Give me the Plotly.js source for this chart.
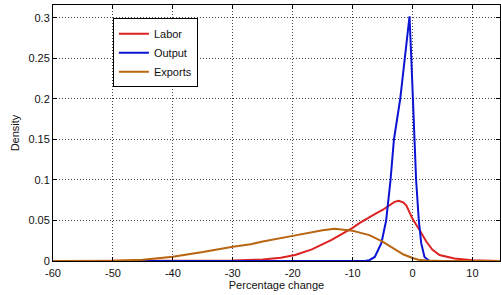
<!DOCTYPE html>
<html>
<head>
<meta charset="utf-8">
<script src="https://cdn.plot.ly/plotly-3.0.1.min.js"></script>
<style>html,body{margin:0;padding:0;background:#fff;}#chart{width:501px;height:295px;}</style>
</head>
<body>
<div id="chart"></div>
<script>
// Labor density
var laborX = [-60, -35, -30, -25, -22, -19.6, -16.8, -13.5, -10.8, -10, -8.8, -7.5, -6, -5, -4, -3, -2.3, -1.5, -1, 0, 1.2, 2.3, 3.3, 4.5, 7, 10, 15];
var laborY = [0, 0, 0.0005, 0.002, 0.004, 0.0074, 0.0144, 0.026, 0.0374, 0.041, 0.047, 0.053, 0.059, 0.063, 0.068, 0.073, 0.0744, 0.072, 0.068, 0.052, 0.038, 0.024, 0.014, 0.0074, 0.003, 0.001, 0];

// Output density
var outputX = [-60, -8, -7.2, -6.3, -5.2, -4.4, -3.67, -3.1, -2.05, -1.33, -0.5, -0.2, 0.05, 0.33, 0.6, 1.05, 1.45, 2.0, 2.8, 15];
var outputY = [0, 0, 0.001, 0.005, 0.022, 0.05, 0.1, 0.15, 0.2, 0.25, 0.302, 0.25, 0.2, 0.15, 0.1, 0.05, 0.022, 0.005, 0, 0];

// Exports density
var exportsX = [-60, -50, -45, -40, -35, -30, -27, -25, -20, -17, -15, -13, -10.6, -10, -8.8, -7.2, -5, -3.3, -1.5, 0, 1, 2.3, 5, 15];
var exportsY = [0, 0.0002, 0.0015, 0.0053, 0.011, 0.0177, 0.0206, 0.024, 0.031, 0.0355, 0.038, 0.0397, 0.0383, 0.0374, 0.035, 0.032, 0.024, 0.0157, 0.008, 0.0037, 0.0015, 0.0005, 0, 0];

var seriesNames = ['Labor', 'Output', 'Exports'];
var xTicks = [-60, -50, -40, -30, -20, -10, 0, 10];
var yTicks = [0, 0.05, 0.1, 0.15, 0.2, 0.25, 0.3];
var yTickText = ['0', '0.05', '0.1', '0.15', '0.2', '0.25', '0.3'];

var colors = ['#dd2222', '#0a14d2', '#b8650f'];
var data = [
  {x: laborX, y: laborY, name: seriesNames[0], type: 'scatter', mode: 'lines', line: {color: colors[0], width: 2}},
  {x: outputX, y: outputY, name: seriesNames[1], type: 'scatter', mode: 'lines', line: {color: colors[1], width: 2}},
  {x: exportsX, y: exportsY, name: seriesNames[2], type: 'scatter', mode: 'lines', line: {color: colors[2], width: 2}}
];

var axisCommon = {
  showline: true, linecolor: '#000', linewidth: 1, mirror: 'allticks',
  ticks: 'inside', ticklen: 4, tickcolor: '#000',
  showgrid: true, gridcolor: '#444', gridwidth: 1, griddash: '1px,2px',
  zeroline: false,
  tickfont: {family: 'Liberation Sans, Arial, sans-serif', size: 11, color: '#111'}
};

var layout = {
  width: 501, height: 295,
  margin: {l: 53, r: 1, t: 5, b: 34},
  paper_bgcolor: '#fff', plot_bgcolor: '#fff',
  font: {family: 'Liberation Sans, Arial, sans-serif', size: 11, color: '#111'},
  xaxis: Object.assign({}, axisCommon, {
    range: [-60, 14.6], tickvals: xTicks, ticktext: xTicks.map(String),
    ticklabelstandoff: 2,
    title: {text: 'Percentage change', font: {size: 11, color: '#111'}, standoff: 3}
  }),
  yaxis: Object.assign({}, axisCommon, {
    range: [0, 0.316], tickvals: yTicks, ticktext: yTickText,
    title: {text: 'Density', font: {size: 11, color: '#111'}, standoff: 6}
  }),
  showlegend: true,
  legend: {
    x: 0.134, y: 0.948, xanchor: 'left', yanchor: 'top',
    bgcolor: '#fff', bordercolor: '#000', borderwidth: 1,
    font: {size: 11, color: '#111'}, tracegroupgap: 0, itemwidth: 30
  }
};

Plotly.newPlot('chart', data, layout, {displayModeBar: false, staticPlot: true});
</script>
</body>
</html>
